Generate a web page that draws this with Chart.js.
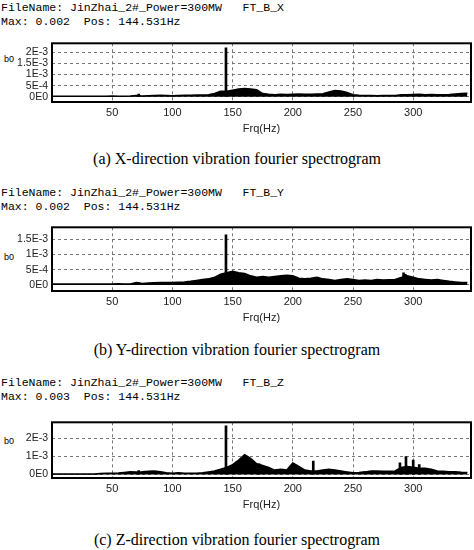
<!DOCTYPE html>
<html>
<head>
<meta charset="utf-8">
<script src="https://cdn.jsdelivr.net/npm/chart.js@4"></script>
<style>
  body { margin: 0; background: #fff; width: 474px; height: 550px; position: relative; overflow: hidden; }
  .hdr { position: absolute; left: 1px; font: 11.5px "Liberation Mono", monospace; line-height: 14px; color: #000; white-space: pre; }
  .cap { position: absolute; left: 0; width: 474px; text-align: center; font: 16px "Liberation Serif", serif; color: #000; }
  .b0 { position: absolute; left: 4px; font: 9px "Liberation Sans", sans-serif; color: #000; }
  .wrap { position: absolute; left: 0; width: 474px; }
</style>
</head>
<body>
<div class="hdr" style="top:1px">FileName: JinZhai_2#_Power=300MW   FT_B_X
Max: 0.002  Pos: 144.531Hz</div>
<div class="b0" style="top:54px">b0</div>
<div class="wrap" style="top:33px;height:103px"><canvas id="cx"></canvas></div>
<div class="cap" style="top:150px">(a) X-direction vibration fourier spectrogram</div>

<div class="hdr" style="top:186px">FileName: JinZhai_2#_Power=300MW   FT_B_Y
Max: 0.002  Pos: 144.531Hz</div>
<div class="b0" style="top:252px">b0</div>
<div class="wrap" style="top:217px;height:108px"><canvas id="cy"></canvas></div>
<div class="cap" style="top:341px">(b) Y-direction vibration fourier spectrogram</div>

<div class="hdr" style="top:376px">FileName: JinZhai_2#_Power=300MW   FT_B_Z
Max: 0.003  Pos: 144.531Hz</div>
<div class="b0" style="top:436px">b0</div>
<div class="wrap" style="top:412px;height:100px"><canvas id="cz"></canvas></div>
<div class="cap" style="top:531px">(c) Z-direction vibration fourier spectrogram</div>

<script>
// frequency grid, 5 Hz steps from 0 to 345 Hz
const freqs = [];
for (let f = 0; f <= 345; f += 5) freqs.push(f);

// spectrum envelopes, in units of 1E-4
const specX = [0.3,0.3,0.3,0.3,0.3,0.3,0.3,0.3, 0.3,0.3,0.4,0.3,0.3,0.4, 0.6,0.4,0.5,0.6,0.7,0.6,
  0.5,0.6,0.7,0.7,0.8,0.8, 1.0,1.5, 2.5,2.5,3.0,3.5,3.8,3.5,3.2,1.5,
  1.2,1.0,1.2,1.1,1.2,1.3,1.2,1.2,1.3,1.4, 2.2,2.8,2.6,2.0,1.0,
  0.7,0.6,0.6,0.5,0.6,0.6,0.6, 0.9,1.0,1.1,1.2,1.0,1.1,0.9,1.0,1.1,1.3,1.5,1.6];
const specY = [0.3,0.3,0.3,0.3,0.3,0.3,0.3,0.3, 0.3,0.3,0.3,0.4,0.3,0.3, 0.8,0.5,0.6,0.7,0.8,0.8,
  0.8,0.9,1.0,1.2,1.5,1.8, 2.0,2.5, 3.5,4.0,4.5,4.0,3.8,3.0,2.5,2.8,
  2.5,2.8,3.0,3.2,3.0,2.2,2.0,2.2,2.5,2.0, 1.8,1.5,1.8,2.0,1.8,
  1.5,1.6,1.5,1.8,1.6,1.7,1.8, 2.5,3.0,2.5,2.0,1.8,1.6,1.8,1.5,1.2,1.0,0.8,0.8];
const specZ = [0.3,0.3,0.3,0.3,0.3,0.3,0.3,0.3, 0.6,0.7,0.8,0.9,1.2,1.5, 1.4,1.5,1.8,2.0,1.6,1.0,
  0.8,1.0,0.8,0.7,0.8,1.0, 1.5,2.0, 3.0,4.0,5.5,8.0,11.0,9.0,6.0,5.0,
  4.0,2.5,3.0,2.5,6.5,4.5,2.5,2.0,2.0,2.5, 3.0,2.5,2.0,1.5,1.0,
  1.2,1.5,2.0,2.0,1.8,1.8,2.0, 4.0,4.5,4.0,3.5,3.5,3.0,2.0,1.8,1.5,1.5,1.3,1.2];

// narrow peaks [Hz, 1E-4]
const spikesX = [[72, 1.2], [144.5, 22]];
const spikesY = [[72, 0.8], [144.5, 16.5], [292, 4], [293.5, 3.5]];
const spikesZ = [[72, 2.2], [144.5, 27], [172, 6], [217, 7.5], [289, 6.5], [294, 10], [300, 8], [305, 5.5]];

// y ticks and their labels
const ticksX = [0, 0.0005, 0.001, 0.0015, 0.002];
const labelsX = ["0E0", "5E-4", "1E-3", "1.5E-3", "2E-3"];
const ticksY = [0, 0.0005, 0.001, 0.0015];
const labelsY = ["0E0", "5E-4", "1E-3", "1.5E-3"];
const ticksZ = [0, 0.001, 0.002];
const labelsZ = ["0E0", "1E-3", "2E-3"];

const freqTicks = [50, 100, 150, 200, 250, 300];

const frame = {
  id: "frame",
  afterDraw(chart) {
    const a = chart.chartArea, c = chart.ctx;
    c.save();
    c.strokeStyle = "#000";
    c.lineWidth = 2;
    c.strokeRect(a.left, a.top, a.right - a.left, a.bottom - a.top);
    c.restore();
  }
};

function makeChart(id, spec, spikes, ticks, labels, ymin, ymax) {
  const line = freqs.map((f, i) => ({ x: f, y: spec[i] * 1e-4 }));
  const bars = spikes.map(s => ({ x: s[0], y: s[1] * 1e-4 }));
  return new Chart(document.getElementById(id), {
    data: {
      datasets: [
        {
          type: "bar",
          data: bars,
          backgroundColor: "#000",
          barThickness: 2,
          order: 0
        },
        {
          type: "line",
          data: line,
          borderColor: "#000",
          backgroundColor: "#000",
          borderWidth: 1.5,
          pointRadius: 0,
          fill: "origin",
          tension: 0,
          order: 1
        }
      ]
    },
    options: {
      animation: false,
      responsive: true,
      maintainAspectRatio: false,
      layout: { padding: { top: 1, right: 3 } },
      plugins: { legend: { display: false }, tooltip: { enabled: false } },
      scales: {
        x: {
          type: "linear",
          offset: false,
          min: 0,
          max: 348,
          afterBuildTicks: s => { s.ticks = freqTicks.map(v => ({ value: v })); },
          afterFit: s => { s.height = 34; },
          ticks: { color: "#222", font: { family: "Liberation Sans", size: 11 }, padding: 4 },
          grid: { color: "#777", offset: false, drawTicks: false },
          border: { display: false, dash: [3, 3] },
          title: { display: true, text: "Frq(Hz)", color: "#222", font: { family: "Liberation Sans", size: 11 }, padding: 0 }
        },
        y: {
          min: ymin,
          max: ymax,
          afterBuildTicks: s => { s.ticks = ticks.map(v => ({ value: v })); },
          afterFit: s => { s.width = 52; },
          ticks: {
            color: "#222",
            font: { family: "Liberation Sans", size: 10.5 },
            padding: 4,
            autoSkip: false,
            callback: v => labels[ticks.indexOf(v)]
          },
          grid: { color: "#777", drawTicks: false },
          border: { display: false, dash: [3, 3] }
        }
      }
    },
    plugins: [frame]
  });
}

makeChart("cx", specX, spikesX, ticksX, labelsX, -0.00023, 0.0024);
makeChart("cy", specY, spikesY, ticksY, labelsY, -0.0002, 0.0019);
makeChart("cz", specZ, spikesZ, ticksZ, labelsZ, -0.00019, 0.0029);
</script>
</body>
</html>
